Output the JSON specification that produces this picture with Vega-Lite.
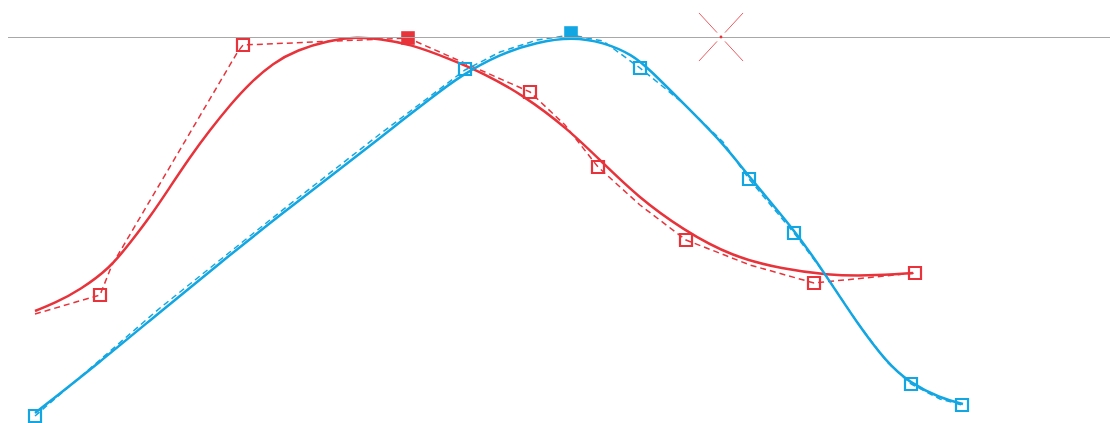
{
  "$schema": "https://vega.github.io/schema/vega-lite/v6.json",
  "width": 1110,
  "height": 423,
  "autosize": "none",
  "padding": 0,
  "background": "white",
  "config": {"view": {"stroke": null}},
  "datasets": {
    "fit": [
      {"series": "A", "x": 35, "v": 112}, {"series": "A", "x": 55, "v": 120}, {"series": "A", "x": 80, "v": 133},
      {"series": "A", "x": 110, "v": 155}, {"series": "A", "x": 130, "v": 180}, {"series": "A", "x": 150, "v": 206},
      {"series": "A", "x": 170, "v": 236}, {"series": "A", "x": 190, "v": 266}, {"series": "A", "x": 210, "v": 293},
      {"series": "A", "x": 230, "v": 318}, {"series": "A", "x": 250, "v": 340}, {"series": "A", "x": 273, "v": 360},
      {"series": "A", "x": 297, "v": 373}, {"series": "A", "x": 330, "v": 383}, {"series": "A", "x": 357, "v": 386},
      {"series": "A", "x": 380, "v": 384}, {"series": "A", "x": 410, "v": 379}, {"series": "A", "x": 450, "v": 364},
      {"series": "A", "x": 483, "v": 350}, {"series": "A", "x": 523, "v": 328}, {"series": "A", "x": 567, "v": 295},
      {"series": "A", "x": 603, "v": 260}, {"series": "A", "x": 637, "v": 227}, {"series": "A", "x": 683, "v": 193},
      {"series": "A", "x": 733, "v": 166}, {"series": "A", "x": 783, "v": 154}, {"series": "A", "x": 827, "v": 148},
      {"series": "A", "x": 867, "v": 147}, {"series": "A", "x": 913, "v": 150},
      {"series": "B", "x": 35, "v": 10}, {"series": "B", "x": 100, "v": 61}, {"series": "B", "x": 160, "v": 111},
      {"series": "B", "x": 220, "v": 160}, {"series": "B", "x": 280, "v": 208}, {"series": "B", "x": 340, "v": 254},
      {"series": "B", "x": 380, "v": 285}, {"series": "B", "x": 400, "v": 301}, {"series": "B", "x": 430, "v": 324},
      {"series": "B", "x": 460, "v": 347}, {"series": "B", "x": 500, "v": 369}, {"series": "B", "x": 537, "v": 381},
      {"series": "B", "x": 572, "v": 386}, {"series": "B", "x": 603, "v": 381}, {"series": "B", "x": 633, "v": 368},
      {"series": "B", "x": 650, "v": 353}, {"series": "B", "x": 683, "v": 320}, {"series": "B", "x": 723, "v": 280},
      {"series": "B", "x": 750, "v": 245}, {"series": "B", "x": 797, "v": 190}, {"series": "B", "x": 827, "v": 146},
      {"series": "B", "x": 857, "v": 100}, {"series": "B", "x": 887, "v": 60}, {"series": "B", "x": 910, "v": 40},
      {"series": "B", "x": 940, "v": 25}, {"series": "B", "x": 963, "v": 19}
    ],
    "raw": [
      {"series": "A", "x": 35, "v": 109}, {"series": "A", "x": 100, "v": 128}, {"series": "A", "x": 112, "v": 158},
      {"series": "A", "x": 237, "v": 370}, {"series": "A", "x": 243, "v": 378}, {"series": "A", "x": 408, "v": 385},
      {"series": "A", "x": 530, "v": 331}, {"series": "A", "x": 565, "v": 298}, {"series": "A", "x": 598, "v": 256},
      {"series": "A", "x": 640, "v": 218}, {"series": "A", "x": 686, "v": 183}, {"series": "A", "x": 750, "v": 158},
      {"series": "A", "x": 814, "v": 140}, {"series": "A", "x": 915, "v": 150},
      {"series": "B", "x": 35, "v": 7}, {"series": "B", "x": 160, "v": 115}, {"series": "B", "x": 280, "v": 211},
      {"series": "B", "x": 380, "v": 289}, {"series": "B", "x": 465, "v": 353}, {"series": "B", "x": 500, "v": 371},
      {"series": "B", "x": 537, "v": 383}, {"series": "B", "x": 571, "v": 388}, {"series": "B", "x": 603, "v": 382},
      {"series": "B", "x": 640, "v": 355}, {"series": "B", "x": 683, "v": 320}, {"series": "B", "x": 723, "v": 281},
      {"series": "B", "x": 749, "v": 244}, {"series": "B", "x": 794, "v": 190}, {"series": "B", "x": 827, "v": 146},
      {"series": "B", "x": 857, "v": 101}, {"series": "B", "x": 887, "v": 61}, {"series": "B", "x": 911, "v": 39},
      {"series": "B", "x": 940, "v": 24}, {"series": "B", "x": 962, "v": 18}
    ],
    "points": [
      {"series": "A", "x": 100, "v": 128, "marker": "open"},
      {"series": "A", "x": 243, "v": 378, "marker": "open"},
      {"series": "A", "x": 408, "v": 385, "marker": "peak"},
      {"series": "A", "x": 530, "v": 331, "marker": "open"},
      {"series": "A", "x": 598, "v": 256, "marker": "open"},
      {"series": "A", "x": 686, "v": 183, "marker": "open"},
      {"series": "A", "x": 814, "v": 140, "marker": "open"},
      {"series": "A", "x": 915, "v": 150, "marker": "open"},
      {"series": "B", "x": 35, "v": 7, "marker": "open"},
      {"series": "B", "x": 465, "v": 354, "marker": "open"},
      {"series": "B", "x": 571, "v": 390, "marker": "peak"},
      {"series": "B", "x": 640, "v": 355, "marker": "open"},
      {"series": "B", "x": 749, "v": 244, "marker": "open"},
      {"series": "B", "x": 794, "v": 190, "marker": "open"},
      {"series": "B", "x": 911, "v": 39, "marker": "open"},
      {"series": "B", "x": 962, "v": 18, "marker": "open"}
    ],
    "baseline": [{"x0": 8, "x1": 1110, "v": 385.5}],
    "target": [{"x": 721, "v": 386}]
  },
  "encoding": {
    "x": {"field": "x", "type": "quantitative", "scale": {"domain": [0, 1110], "nice": false, "zero": false}, "axis": null},
    "y": {"field": "v", "type": "quantitative", "scale": {"domain": [0, 423], "nice": false, "zero": false}, "axis": null}
  },
  "layer": [
    {
      "data": {"name": "raw"},
      "mark": {"type": "line", "interpolate": "linear", "strokeDash": [6, 4], "strokeWidth": 1.5},
      "encoding": {
        "color": {"field": "series", "type": "nominal", "scale": {"domain": ["A", "B"], "range": ["#e8333b", "#12a6e2"]}, "legend": null}
      }
    },
    {
      "data": {"name": "fit"},
      "mark": {"type": "line", "interpolate": "basis", "strokeWidth": 2.5},
      "encoding": {
        "color": {"field": "series", "type": "nominal", "scale": {"domain": ["A", "B"], "range": ["#e8333b", "#12a6e2"]}, "legend": null}
      }
    },
    {
      "data": {"name": "points"},
      "transform": [{"filter": "datum.marker === 'open'"}],
      "mark": {"type": "point", "shape": "square", "filled": false, "size": 144, "strokeWidth": 2.2, "opacity": 1},
      "encoding": {
        "color": {"field": "series", "type": "nominal", "scale": {"domain": ["A", "B"], "range": ["#e8333b", "#1ab0ea"]}, "legend": null}
      }
    },
    {
      "data": {"name": "points"},
      "transform": [{"filter": "datum.marker === 'peak'"}],
      "mark": {"type": "point", "shape": "square", "filled": true, "size": 185, "opacity": 1},
      "encoding": {
        "color": {"field": "series", "type": "nominal", "scale": {"domain": ["A", "B"], "range": ["#e8333b", "#1ab0ea"]}, "legend": null}
      }
    },
    {
      "data": {"name": "baseline"},
      "mark": {"type": "rule", "color": "#a8a8a8", "strokeWidth": 1},
      "encoding": {"x": {"field": "x0", "type": "quantitative"}, "x2": {"field": "x1"}}
    },
    {
      "data": {"name": "target"},
      "mark": {"type": "point", "shape": "M-1,-1.09L-0.18,-0.2M0.18,0.2L1,1.09M1,-1.09L0.18,-0.2M-0.18,0.2L-1,1.09", "filled": false, "size": 1936, "stroke": "#ee5a60", "strokeWidth": 1, "opacity": 1}
    },
    {
      "data": {"name": "target"},
      "mark": {"type": "point", "shape": "circle", "filled": true, "size": 8, "color": "#e8333b", "opacity": 1}
    }
  ]
}
